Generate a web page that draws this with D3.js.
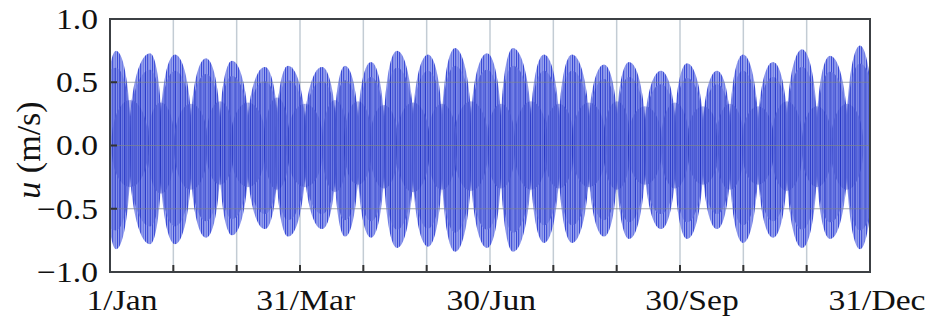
<!DOCTYPE html>
<html>
<head>
<meta charset="utf-8">
<script src="https://cdn.jsdelivr.net/npm/d3@7"></script>
<style>
  html, body { margin: 0; padding: 0; background: #ffffff; }
  svg { display: block; }
  text { font-family: 'Liberation Serif', 'Times New Roman', serif; fill: #111; }
</style>
</head>
<body>
<svg id="chart" width="946" height="324"></svg>
<script>
// ---- data (months from 1 Jan; values in m/s) ----
const springMonth = [0.095, 0.632, 1.026, 1.516, 1.926, 2.447, 2.811, 3.347, 3.711, 4.121, 4.532, 5.021, 5.448, 5.953,
  6.363, 6.853, 7.295, 7.800, 8.195, 8.700, 9.111, 9.584, 9.995, 10.469, 10.927, 11.369, 11.842];
const springMax = [0.75, 0.73, 0.72, 0.69, 0.67, 0.62, 0.63, 0.62, 0.63, 0.66, 0.75, 0.72, 0.77, 0.73,
  0.77, 0.72, 0.72, 0.64, 0.66, 0.59, 0.65, 0.59, 0.72, 0.66, 0.76, 0.71, 0.79];
const springMin = [-0.82, -0.78, -0.78, -0.73, -0.71, -0.66, -0.72, -0.66, -0.72, -0.73, -0.81, -0.80, -0.84, -0.81,
  -0.84, -0.77, -0.77, -0.72, -0.74, -0.66, -0.74, -0.66, -0.77, -0.73, -0.81, -0.74, -0.82];
// boundaries between lobes (neap tides), plus the series start and end
const neapMonth = [0, 0.316, 0.805, 1.279, 1.737, 2.179, 2.637, 3.079, 3.553, 3.916, 4.326, 4.784, 5.242, 5.700, 6.174,
  6.647, 7.090, 7.563, 8.005, 8.447, 8.921, 9.363, 9.789, 10.232, 10.689, 11.163, 11.637, 12];
const neapMax = [0.64, 0.24, 0.27, 0.24, 0.25, 0.25, 0.30, 0.24, 0.28, 0.26, 0.22, 0.25, 0.24, 0.26, 0.24,
  0.26, 0.24, 0.25, 0.26, 0.22, 0.25, 0.22, 0.24, 0.22, 0.26, 0.22, 0.24, 0.50];
const neapMin = [-0.65, -0.23, -0.30, -0.26, -0.22, -0.24, -0.26, -0.24, -0.28, -0.22, -0.25, -0.28, -0.26, -0.27, -0.25,
  -0.26, -0.25, -0.24, -0.26, -0.22, -0.25, -0.22, -0.26, -0.22, -0.27, -0.24, -0.26, -0.57];
// darker secondary (weaker daily) lobes that peak around the neaps
const neapLobeMax = [0.36, 0.34, 0.33, 0.35, 0.34, 0.38, 0.33, 0.36, 0.35, 0.32, 0.34, 0.33, 0.35, 0.33,
  0.35, 0.33, 0.34, 0.35, 0.31, 0.34, 0.31, 0.33, 0.31, 0.35, 0.31, 0.33];
const neapLobeMin = [-0.33, -0.38, -0.35, -0.31, -0.33, -0.35, -0.33, -0.37, -0.31, -0.34, -0.37, -0.35, -0.36, -0.34,
  -0.35, -0.34, -0.33, -0.35, -0.31, -0.34, -0.31, -0.35, -0.31, -0.36, -0.33, -0.35];

const yTicks = [-1.0, -0.5, 0.0, 0.5, 1.0];
const xGridMonths = [1, 2, 3, 4, 5, 6, 7, 8, 9, 10, 11];
const xLabels = ["1/Jan", "31/Mar", "30/Jun", "30/Sep", "31/Dec"];
const xLabelMonths = [0.19, 3.09, 6.02, 9.19, 12.11];

// ---- layout ----
const svg = d3.select("#chart");
const L = 110, R = 870, T = 19, B = 272;
const x = d3.scaleLinear().domain([0, 12]).range([L, R]);
const y = d3.scaleLinear().domain([-1, 1]).range([B, T]);

const defs = svg.append("defs");
function stripePattern(id, w, base, stripes) {
  const p = defs.append("pattern").attr("id", id)
    .attr("patternUnits", "userSpaceOnUse").attr("width", w).attr("height", 8);
  p.append("rect").attr("width", w).attr("height", 8).attr("fill", base);
  stripes.forEach(s => p.append("rect").attr("x", s[0]).attr("width", s[1]).attr("height", 8).attr("fill", s[2]));
}
stripePattern("outerStrokes", 7, "#a0aaef", [[0, 1.3, "#4555da"], [2.6, 1.5, "#7280e5"], [5.0, 1.1, "#3a4bd5"]]);
stripePattern("innerStrokes", 5, "#7885e6", [[0, 1.0, "#1f30c2"], [2.2, 1.3, "#5161dd"], [4.0, 0.6, "#2a3bca"]]);
stripePattern("neapStrokes", 4, "#5a69de", [[0, 1.0, "#1a2bba"], [2.1, 0.8, "#2c3cc6"]]);

defs.append("clipPath").attr("id", "plotclip").append("rect")
  .attr("x", L).attr("y", T).attr("width", R - L).attr("height", B - T);

// vertical gridlines (behind)
svg.append("g").selectAll("line").data(xGridMonths).join("line")
  .attr("x1", d => x(d)).attr("x2", d => x(d)).attr("y1", T).attr("y2", B)
  .attr("stroke", "#c3ccd4").attr("stroke-width", 1.5);

// spindle-shaped spring lobes (elliptic arcs through the peak values)
const lobes = springMonth.map((m, i) => ({
  m, hi: springMax[i], lo: springMin[i],
  m0: neapMonth[i], m1: neapMonth[i + 1],
  r0: (neapMax[i] / springMax[i] + neapMin[i] / springMin[i]) / 2,
  r1: (neapMax[i + 1] / springMax[i] + neapMin[i + 1] / springMin[i]) / 2
}));
function lobePath(d, k) {
  const cx = x(d.m), cy = y(0);
  const bU = (cy - y(d.hi)) * k, bL = (y(d.lo) - cy) * k;
  const r0 = Math.min(d.r0 / k, 0.97), r1 = Math.min(d.r1 / k, 0.97);
  const aL = (cx - x(d.m0)) / Math.sqrt(1 - r0 * r0);
  const aR = (x(d.m1) - cx) / Math.sqrt(1 - r1 * r1);
  return `M${cx - aL},${cy}A${aL},${bU} 0 0 1 ${cx},${cy - bU}A${aR},${bU} 0 0 1 ${cx + aR},${cy}` +
         `A${aR},${bL} 0 0 1 ${cx},${cy + bL}A${aL},${bL} 0 0 1 ${cx - aL},${cy}Z`;
}
const dataG = svg.append("g").attr("clip-path", "url(#plotclip)");
dataG.selectAll("path.lobe").data(lobes).join("path").attr("class", "lobe")
  .attr("d", d => lobePath(d, 1)).attr("fill", "url(#outerStrokes)");
dataG.selectAll("path.inner").data(lobes).join("path").attr("class", "inner")
  .attr("d", d => lobePath(d, 0.82)).attr("fill", "url(#innerStrokes)").attr("opacity", 0.6);

// weaker secondary lobes centred on the neaps
const neapLobes = neapMonth.slice(1, -1).map((m, i) => ({
  m, hi: neapLobeMax[i], lo: neapLobeMin[i],
  w: (springMonth[i + 1] - springMonth[i]) * 0.55
}));
dataG.selectAll("path.neap").data(neapLobes).join("path").attr("class", "neap")
  .attr("d", d => {
    const cx = x(d.m), cy = y(0), a = x(d.w) - x(0);
    const bU = cy - y(d.hi), bL = y(d.lo) - cy;
    return `M${cx - a},${cy}A${a},${bU} 0 0 1 ${cx + a},${cy}A${a},${bL} 0 0 1 ${cx - a},${cy}Z`;
  })
  .attr("fill", "url(#neapStrokes)").attr("opacity", 0.45);

// horizontal gridlines (grey, visible through the data)
svg.append("g").selectAll("line").data([-0.5, 0, 0.5]).join("line")
  .attr("x1", L).attr("x2", R).attr("y1", d => y(d)).attr("y2", d => y(d))
  .attr("stroke", "#7d848c").attr("stroke-opacity", 0.7).attr("stroke-width", 1);

// inward ticks
svg.append("g").selectAll("line").data(xGridMonths).join("line")
  .attr("x1", d => x(d)).attr("x2", d => x(d)).attr("y1", B).attr("y2", B - 7)
  .attr("stroke", "#333").attr("stroke-width", 2);
svg.append("g").selectAll("line").data([-0.5, 0, 0.5]).join("line")
  .attr("x1", L).attr("x2", L + 7).attr("y1", d => y(d)).attr("y2", d => y(d))
  .attr("stroke", "#333").attr("stroke-width", 2);

// frame
svg.append("rect").attr("x", L).attr("y", T).attr("width", R - L).attr("height", B - T)
  .attr("fill", "none").attr("stroke", "#3c4044").attr("stroke-width", 2);

// y tick labels
const fmt = v => (v < 0 ? "\u2212" : "") + Math.abs(v).toFixed(1);
svg.append("g").selectAll("text").data(yTicks).join("text")
  .attr("transform", d => `translate(98,${y(d)}) scale(1.12,1)`)
  .attr("text-anchor", "end").attr("dominant-baseline", "central")
  .attr("font-size", 30).text(fmt);

// x labels
svg.append("g").selectAll("text").data(xLabels).join("text")
  .attr("transform", (d, i) => `translate(${x(xLabelMonths[i])},310) scale(1.12,1)`)
  .attr("text-anchor", "middle").attr("font-size", 30).text(d => d);

// y axis title
const yt = svg.append("text")
  .attr("transform", "translate(40,150) rotate(-90)")
  .attr("text-anchor", "middle").attr("font-size", 34);
yt.append("tspan").attr("font-style", "italic").text("u");
yt.append("tspan").text(" (m/s)");
</script>
</body>
</html>
